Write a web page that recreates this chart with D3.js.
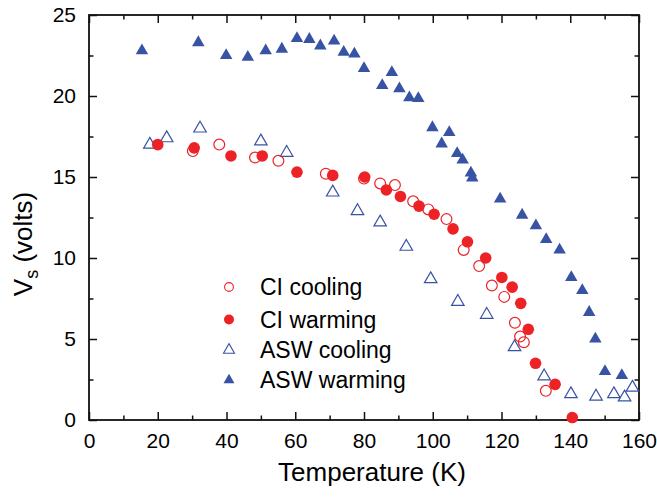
<!DOCTYPE html>
<html>
<head>
<meta charset="utf-8">
<script src="https://cdn.jsdelivr.net/npm/d3@7"></script>
<style>
  html, body { margin: 0; padding: 0; background: #fff; }
  svg text { font-family: "Liberation Sans", Arial, Helvetica, sans-serif; fill: #000; }
</style>
</head>
<body>
<svg id="chart" width="657" height="498"></svg>
<script>
// ---------------- data ----------------
const xTicks = [0, 20, 40, 60, 80, 100, 120, 140, 160];
const yTicks = [0, 5, 10, 15, 20, 25];
const seriesNames = ["CI cooling", "CI warming", "ASW cooling", "ASW warming"];

const ciCoolingT = [30.2, 37.9, 48.3, 55.1, 68.9, 80.0, 84.7, 89.0, 94.3, 98.7, 104.0, 109.0, 113.5, 117.2, 120.8, 123.9, 125.4, 126.5, 132.9];
const ciCoolingV = [16.6, 17.0, 16.2, 16.0, 15.2, 14.9, 14.6, 14.5, 13.5, 13.0, 12.4, 10.5, 9.5, 8.3, 7.6, 6.0, 5.15, 4.8, 1.8];

const ciWarmingT = [20.0, 30.6, 41.3, 50.4, 60.5, 70.9, 80.2, 86.5, 90.6, 96.0, 100.4, 105.9, 110.1, 115.4, 120.1, 123.1, 125.6, 127.8, 129.9, 135.6, 140.6];
const ciWarmingV = [17.0, 16.8, 16.3, 16.3, 15.3, 15.1, 15.0, 14.2, 13.8, 13.2, 12.7, 11.8, 11.0, 10.0, 8.8, 8.2, 7.2, 5.6, 3.5, 2.2, 0.15];

const aswCoolingT = [17.7, 22.6, 32.3, 50.0, 57.5, 70.9, 78.1, 84.7, 92.3, 99.4, 107.3, 115.7, 123.8, 132.4, 140.2, 147.5, 152.7, 155.8, 158.1];
const aswCoolingV = [17.0, 17.4, 18.0, 17.2, 16.5, 14.05, 12.9, 12.2, 10.7, 8.7, 7.3, 6.5, 4.5, 2.7, 1.6, 1.45, 1.6, 1.4, 2.0];

const aswWarmingT = [15.4, 31.8, 39.9, 46.2, 51.4, 56.1, 60.5, 64.1, 67.3, 71.3, 74.1, 77.2, 80.0, 85.3, 88.1, 90.3, 93.2, 95.8, 99.9, 102.6, 104.8, 107.1, 108.7, 111.1, 111.5, 119.6, 126.0, 130.0, 133.0, 136.9, 140.3, 143.5, 145.5, 147.3, 150.1, 155.0];
const aswWarmingV = [22.8, 23.3, 22.5, 22.4, 22.8, 22.9, 23.55, 23.5, 23.1, 23.4, 22.7, 22.6, 21.7, 20.65, 21.45, 20.45, 19.9, 19.85, 18.05, 17.05, 17.75, 16.45, 16.05, 15.25, 14.95, 13.65, 12.65, 12.0, 11.15, 10.5, 8.8, 8.0, 6.65, 5.0, 3.0, 2.75];

// ---------------- layout ----------------
const RED = "#ed2227", BLUE = "#3953a4";
const svg = d3.select("#chart");
const mLeft = 89, mRight = 639, mTop = 15, mBottom = 420;

const x = d3.scaleLinear().domain([0, 160]).range([mLeft, mRight]);
const y = d3.scaleLinear().domain([0, 25]).range([mBottom, mTop]);

const zip = (a, b) => a.map((d, i) => ({ t: d, v: b[i] }));

// triangle path with centroid at origin
function tri(s) {
  const h = s * Math.sqrt(3) / 2;
  return `M0,${-2 * h / 3}L${s / 2},${h / 3}L${-s / 2},${h / 3}Z`;
}

// ---------------- axes ----------------
const minorX = d3.range(10, 160, 20);
const minorY = d3.range(2.5, 25, 5);
const axisG = svg.append("g");

// bottom
axisG.append("g").attr("transform", `translate(0,${mBottom})`)
  .call(d3.axisBottom(x).tickValues(xTicks).tickSizeInner(-8).tickSizeOuter(0).tickPadding(13).tickFormat(d3.format("d")));
axisG.append("g").attr("transform", `translate(0,${mBottom})`)
  .call(d3.axisBottom(x).tickValues(minorX).tickSize(-4.5).tickFormat(""));
// top
axisG.append("g").attr("transform", `translate(0,${mTop})`)
  .call(d3.axisTop(x).tickValues(xTicks).tickSize(-8).tickFormat(""));
axisG.append("g").attr("transform", `translate(0,${mTop})`)
  .call(d3.axisTop(x).tickValues(minorX).tickSize(-4.5).tickFormat(""));
// left
axisG.append("g").attr("transform", `translate(${mLeft},0)`)
  .call(d3.axisLeft(y).tickValues(yTicks).tickSizeInner(-8).tickSizeOuter(0).tickPadding(13).tickFormat(d3.format("d")));
axisG.append("g").attr("transform", `translate(${mLeft},0)`)
  .call(d3.axisLeft(y).tickValues(minorY).tickSize(-4.5).tickFormat(""));
// right
axisG.append("g").attr("transform", `translate(${mRight},0)`)
  .call(d3.axisRight(y).tickValues(yTicks).tickSize(-8).tickFormat(""));
axisG.append("g").attr("transform", `translate(${mRight},0)`)
  .call(d3.axisRight(y).tickValues(minorY).tickSize(-4.5).tickFormat(""));

axisG.selectAll(".domain").remove();
axisG.selectAll(".tick line").attr("stroke", "#111").attr("stroke-width", 1.5);
axisG.selectAll("text").attr("font-size", 21).attr("fill", "#000")
  .style("font-family", "'Liberation Sans', Arial, sans-serif");

// frame
svg.append("rect").attr("x", mLeft).attr("y", mTop)
  .attr("width", mRight - mLeft).attr("height", mBottom - mTop)
  .attr("fill", "none").attr("stroke", "#111").attr("stroke-width", 1.8);

// ---------------- marks ----------------
const plot = svg.append("g");
plot.selectAll(".aswc").data(zip(aswCoolingT, aswCoolingV)).join("path")
  .attr("d", tri(12.5)).attr("transform", d => `translate(${x(d.t)},${y(d.v)})`)
  .attr("fill", "none").attr("stroke", BLUE).attr("stroke-width", 1.2);
plot.selectAll(".asww").data(zip(aswWarmingT, aswWarmingV)).join("path")
  .attr("d", tri(12.5)).attr("transform", d => `translate(${x(d.t)},${y(d.v)})`)
  .attr("fill", BLUE);
plot.selectAll(".cic").data(zip(ciCoolingT, ciCoolingV)).join("circle")
  .attr("cx", d => x(d.t)).attr("cy", d => y(d.v)).attr("r", 5.4)
  .attr("fill", "none").attr("stroke", RED).attr("stroke-width", 1.2);
plot.selectAll(".ciw").data(zip(ciWarmingT, ciWarmingV)).join("circle")
  .attr("cx", d => x(d.t)).attr("cy", d => y(d.v)).attr("r", 5.8)
  .attr("fill", RED);

// ---------------- legend ----------------
const lg = svg.append("g");
const ly = [287, 319.5, 350, 380];
const lx = 229;
lg.append("circle").attr("cx", lx).attr("cy", ly[0]).attr("r", 4.4)
  .attr("fill", "none").attr("stroke", RED).attr("stroke-width", 1.1);
lg.append("circle").attr("cx", lx).attr("cy", ly[1]).attr("r", 5)
  .attr("fill", RED);
lg.append("path").attr("d", tri(11)).attr("transform", `translate(${lx},${ly[2]})`)
  .attr("fill", "none").attr("stroke", BLUE).attr("stroke-width", 1.1);
lg.append("path").attr("d", tri(11)).attr("transform", `translate(${lx},${ly[3]})`)
  .attr("fill", BLUE);
seriesNames.forEach((n, i) => {
  lg.append("text").attr("x", 260).attr("y", ly[i] + 8).attr("font-size", 23).text(n);
});

// ---------------- titles ----------------
svg.append("text").attr("x", 372).attr("y", 481).attr("text-anchor", "middle")
  .attr("font-size", 26).text("Temperature (K)");
const yl = svg.append("text").attr("transform", "translate(32,244) rotate(-90)")
  .attr("text-anchor", "middle").attr("font-size", 26);
yl.append("tspan").text("V");
yl.append("tspan").attr("font-size", 18).attr("dy", 6).text("s");
yl.append("tspan").attr("dy", -6).text(" (volts)");
</script>
</body>
</html>
